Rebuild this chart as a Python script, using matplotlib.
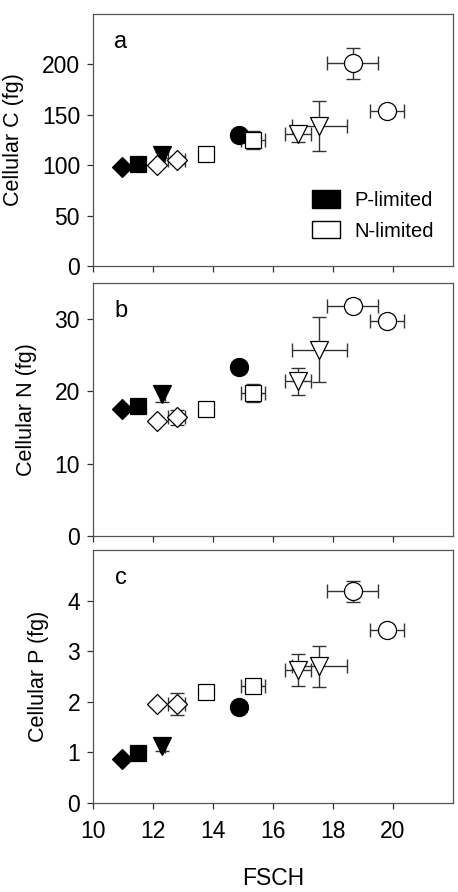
import matplotlib
matplotlib.use("Agg")
import matplotlib.pyplot as plt
from matplotlib.patches import Patch

plt.rcParams['font.family'] = ['Liberation Sans', 'DejaVu Sans']

# FSCH per culture: P-limited (diamond, square, triangle, circle),
# then N-limited (diamond, diamond, square, square, triangle, triangle, circle, circle)
fsch = [10.98, 11.49, 12.31, 14.87, 12.14, 12.79, 13.76, 15.34, 16.84, 17.54, 18.66, 19.81]
fsch_err = [0.05, 0.05, 0.08, 0.08, 0.05, 0.28, 0.05, 0.39, 0.44, 0.92, 0.85, 0.57]
markers = ['D', 's', 'v', 'o', 'D', 'D', 's', 's', 'v', 'v', 'o', 'o']
p_limited = [True] * 4 + [False] * 8

cell_c = [98, 101, 110, 130, 100, 105, 111, 125, 131, 139, 201, 154]
cell_c_err = [2, 3, 3, 3, 2, 4, 2, 9, 8, 25, 15, 3]

cell_n = [17.6, 18.05, 19.7, 23.4, 15.9, 16.4, 17.6, 19.8, 21.4, 25.8, 31.85, 29.8]
cell_n_err = [0.3, 0.3, 1.1, 0.3, 0.3, 1.0, 0.3, 1.2, 1.9, 4.5, 0.9, 0.3]

cell_p = [0.87, 0.98, 1.12, 1.89, 1.95, 1.95, 2.19, 2.32, 2.63, 2.70, 4.18, 3.41]
cell_p_err = [0.03, 0.03, 0.1, 0.03, 0.03, 0.22, 0.03, 0.12, 0.31, 0.41, 0.21, 0.05]

panels = [
    ('a', 'Cellular C (fg)', cell_c, cell_c_err, (0, 250), [0, 50, 100, 150, 200]),
    ('b', 'Cellular N (fg)', cell_n, cell_n_err, (0, 35), [0, 10, 20, 30]),
    ('c', 'Cellular P (fg)', cell_p, cell_p_err, (0, 5), [0, 1, 2, 3, 4]),
]

msize = {'D': 10.5, 's': 12, 'v': 13.5, 'o': 13}

fig = plt.figure(figsize=(4.58, 8.92), dpi=100)
boxes = [[0.203, 0.7018, 0.786, 0.2825],
         [0.203, 0.3991, 0.786, 0.2836],
         [0.203, 0.0998, 0.786, 0.2836]]

for k, (lab, ylab, yv, ye, ylim, yticks) in enumerate(panels):
    ax = fig.add_axes(boxes[k])
    for i in range(len(fsch)):
        ax.errorbar(fsch[i], yv[i], xerr=fsch_err[i], yerr=ye[i], fmt='none',
                    ecolor='#333333', elinewidth=1.0, capsize=5, capthick=1.0, zorder=2)
        face = 'black' if p_limited[i] else 'white'
        ax.plot(fsch[i], yv[i], marker=markers[i], ms=msize[markers[i]],
                mfc=face, mec='black', mew=0.9, ls='none', zorder=3)
    ax.set_xlim(10, 22)
    ax.set_ylim(*ylim)
    ax.set_xticks([10, 12, 14, 16, 18, 20])
    ax.set_yticks(yticks)
    ax.tick_params(direction='out', length=4.3, width=0.9, labelsize=16.5,
                   color='#333333', pad=5)
    ax.tick_params(axis='x', pad=8)
    for s in ax.spines.values():
        s.set_color('#555555')
        s.set_linewidth(0.9)
    ax.set_ylabel(ylab, fontsize=15.5, labelpad=13)
    ax.text(0.077, 0.89, lab, transform=ax.transAxes, fontsize=17, ha='center', va='center')
    if k < 2:
        ax.tick_params(labelbottom=False)
    else:
        ax.set_xlabel('FSCH', fontsize=16.5, labelpad=17)
    if k == 0:
        handles = [Patch(facecolor='black', edgecolor='black'),
                   Patch(facecolor='white', edgecolor='black')]
        ax.legend(handles, ['P-limited', 'N-limited'], loc='upper left',
                  bbox_to_anchor=(0.58, 0.34), frameon=False, fontsize=14.5,
                  borderpad=0, handlelength=1.4, handleheight=0.95,
                  handletextpad=0.7, labelspacing=0.55)

fig.savefig('out.png', dpi=100)
